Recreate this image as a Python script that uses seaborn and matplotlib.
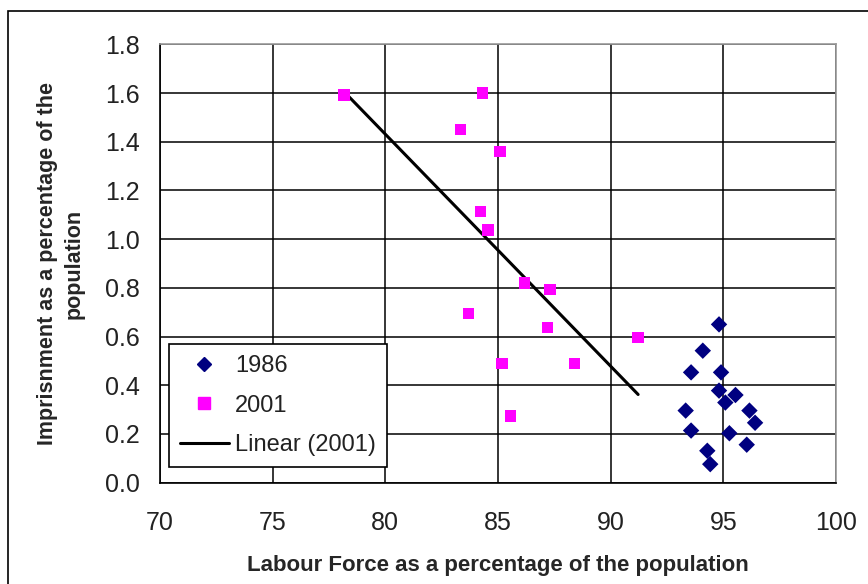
import numpy as np
import pandas as pd
import matplotlib
matplotlib.use('Agg')
import matplotlib.pyplot as plt
from matplotlib.lines import Line2D
from matplotlib.patches import Rectangle
import seaborn as sns

# Данные: 1986
labour_1986 = [94.81, 94.09, 93.57, 94.90, 94.81, 95.54, 95.09, 93.33,
               96.16, 96.41, 93.57, 95.27, 96.04, 94.29, 94.42]
prison_1986 = [0.650, 0.542, 0.453, 0.453, 0.378, 0.360, 0.329, 0.296,
               0.296, 0.246, 0.214, 0.203, 0.156, 0.131, 0.076]

# Данные: 2001
labour_2001 = [78.18, 84.31, 83.33, 85.09, 84.22, 84.57, 86.17, 87.31,
               83.69, 87.19, 91.22, 85.18, 88.39, 85.55]
prison_2001 = [1.592, 1.600, 1.450, 1.360, 1.113, 1.038, 0.819, 0.794,
               0.694, 0.637, 0.596, 0.490, 0.490, 0.274]

years = ['1986', '2001']
x_ticks = [70, 75, 80, 85, 90, 95, 100]
y_ticks = [0.0, 0.2, 0.4, 0.6, 0.8, 1.0, 1.2, 1.4, 1.6, 1.8]

df = pd.DataFrame({
    'labour': labour_1986 + labour_2001,
    'prison': prison_1986 + prison_2001,
    'year': ['1986'] * len(labour_1986) + ['2001'] * len(labour_2001),
})
df_2001 = df[df['year'] == '2001']

colors = {'1986': '#000080', '2001': '#FF00FF'}
markers = {'1986': 'D', '2001': 's'}

sns.set_style('white')
plt.rcParams['font.family'] = ['Liberation Sans', 'DejaVu Sans']

fig = plt.figure(figsize=(8.68, 5.84), dpi=100)
ax = fig.add_axes([0.1843, 0.1735, 0.7788, 0.7506])

# Рамка вокруг диаграммы
fig.patches.append(Rectangle((8 / 868, -0.1), 1.2, 1 - 11 / 584 + 0.1,
                             transform=fig.transFigure, fill=False,
                             edgecolor='black', linewidth=1.2))

# Сетка
ax.set_axisbelow(True)
ax.grid(True, color='black', linewidth=1.1)

# Точки
sns.scatterplot(data=df, x='labour', y='prison', hue='year', style='year',
                hue_order=years, style_order=years, palette=colors,
                markers=markers, s=70, linewidth=0, legend=False,
                ax=ax, zorder=3)

# Линейный тренд для 2001
sns.regplot(data=df_2001, x='labour', y='prison', scatter=False, ci=None,
            truncate=True, color='black', line_kws={'linewidth': 2.2},
            ax=ax)

ax.set_xlim(70, 100)
ax.set_ylim(0, 1.8)
ax.set_xticks(x_ticks)
ax.set_yticks(y_ticks)
ax.set_yticklabels([f'{v:.1f}' for v in y_ticks])

ax.tick_params(axis='both', direction='out', length=6.5, width=1.1,
               color='black', labelsize=18, labelcolor='#222222')
ax.tick_params(axis='x', pad=14)
ax.tick_params(axis='y', pad=8)

for side in ['left', 'bottom']:
    ax.spines[side].set_color('black')
    ax.spines[side].set_linewidth(1.2)
for side in ['top', 'right']:
    ax.spines[side].set_color('#999999')
    ax.spines[side].set_linewidth(1.2)

ax.set_xlabel('Labour Force as a percentage of the population',
              fontsize=16, fontweight='bold', labelpad=14)
ax.set_ylabel('Imprisnment as a percentage of the\npopulation',
              fontsize=15.5, fontweight='bold', labelpad=15, linespacing=1.3)

# Легенда
handles = [
    Line2D([], [], linestyle='none', marker='D', color=colors['1986'],
           markersize=7),
    Line2D([], [], linestyle='none', marker='s', color=colors['2001'],
           markersize=8),
    Line2D([], [], color='black', linewidth=2.2),
]
leg = ax.legend(handles, ['1986', '2001', 'Linear (2001)'],
                loc='lower left', bbox_to_anchor=(0.0133, 0.0358),
                fontsize=17, frameon=True, fancybox=False, framealpha=1,
                edgecolor='black', handlelength=2.1, labelspacing=0.75,
                borderpad=0.45, handletextpad=0.25, borderaxespad=0)
leg.get_frame().set_linewidth(1.2)
for t in leg.get_texts():
    t.set_color('#222222')

fig.savefig('out.png', dpi=100, facecolor='white')
